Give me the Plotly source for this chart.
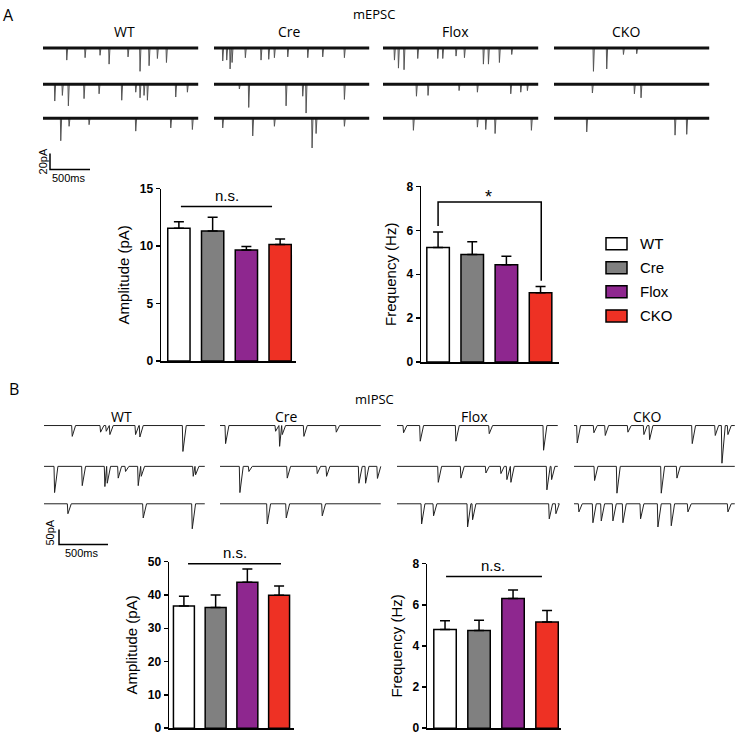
import plotly.graph_objects as go

W, H = 736, 739

GROUPS = ["WT", "Cre", "Flox", "CKO"]
COLORS = ["#ffffff", "#808080", "#8e278f", "#ee3124"]

# bar values (mean, sem)
EPSC_AMP = [11.55, 11.3, 9.66, 10.13]
EPSC_AMP_ERR = [0.55, 1.2, 0.3, 0.47]
EPSC_FREQ = [5.22, 4.90, 4.43, 3.16]
EPSC_FREQ_ERR = [0.71, 0.58, 0.39, 0.28]
IPSC_AMP = [36.7, 36.25, 43.85, 39.9]
IPSC_AMP_ERR = [2.9, 3.75, 3.95, 2.8]
IPSC_FREQ = [4.80, 4.75, 6.31, 5.16]
IPSC_FREQ_ERR = [0.42, 0.50, 0.41, 0.56]

# example sweeps: (time ms, event amplitude pA), three sweeps per group
EPSC_EVENTS = {
    "WT": [
        [(292, 15), (521, 12), (708, 9), (821, 20), (1058, 11), (1208, 29), (1321, 22), (1425, 13), (1538, 18)],
        [(142, 21), (237, 14), (312, 27), (508, 18), (696, 12), (979, 20), (1154, 10), (1208, 17), (1258, 14), (1300, 20), (1654, 16), (1800, 10)],
        [(217, 28), (321, 10), (571, 8), (1154, 16), (1592, 12), (1862, 14)],
    ],
    "Cre": [
        [(104, 16), (154, 15), (196, 26), (221, 18), (387, 12), (583, 15), (679, 14), (750, 12), (917, 11), (1167, 12), (1354, 11), (1625, 12)],
        [(312, 6), (429, 29), (896, 27), (1104, 15), (1146, 36), (1625, 19)],
        [(104, 12), (479, 22), (750, 10), (1221, 37), (1271, 19), (1625, 10)],
    ],
    "Flox": [
        [(138, 15), (188, 25), (258, 27), (429, 13), (679, 13), (742, 13), (908, 10), (1013, 12), (1250, 20), (1313, 20), (1450, 18), (1604, 8)],
        [(413, 15), (558, 14), (946, 8), (1175, 10), (1592, 12), (1717, 10), (1800, 8)],
        [(375, 15), (1175, 11), (1279, 14), (1396, 19), (1850, 15)],
    ],
    "CKO": [
        [(488, 29), (654, 26), (863, 8), (1029, 7)],
        [(475, 11), (1000, 12), (1083, 17)],
        [(404, 17), (1508, 21), (1654, 20)],
    ],
}

IPSC_EVENTS = {
    "WT": [
        [(282, 36), (571, 22), (629, 19), (666, 30), (928, 30), (972, 38), (1411, 86)],
        [(102, 87), (384, 64), (615, 67), (639, 56), (751, 39), (826, 17), (955, 64), (986, 33), (1516, 33), (1540, 28)],
        [(238, 33), (1006, 47), (1506, 83)],
    ],
    "Cre": [
        [(51, 60), (561, 19), (602, 69), (629, 30), (850, 36), (1180, 22)],
        [(197, 87), (289, 17), (680, 39), (986, 24), (1081, 33), (1411, 56), (1479, 56), (1600, 40)],
        [(476, 67), (670, 47), (1037, 40)],
    ],
    "Flox": [
        [(61, 24), (231, 52), (595, 52), (935, 27), (1489, 82)],
        [(415, 53), (646, 39), (901, 22), (1054, 24), (1115, 44), (1156, 53), (1523, 78), (1571, 44)],
        [(245, 67), (367, 40), (714, 77), (765, 53), (1547, 50), (1615, 33)],
    ],
    "CKO": [
        [(27, 58), (197, 24), (313, 33), (544, 22), (707, 30), (765, 47), (1200, 60), (1435, 33), (1503, 125), (1564, 30)],
        [(204, 47), (432, 89), (884, 89), (1044, 39)],
        [(44, 27), (187, 63), (272, 57), (391, 57), (493, 63), (673, 50), (850, 77), (986, 73), (1156, 27), (1564, 27)],
    ],
}

SCALE_A = (500, 20)   # ms, pA
SCALE_B = (500, 50)

# the captured page comes out slightly squeezed vertically; map target pixel rows to paper
Y_SCALE, Y_OFF = 0.978, 7.06


def px(x):
    return x / W


def py(y):
    return min(1.0, max(0.0, 1 - (y - Y_OFF) / Y_SCALE / H))


fig = go.Figure()

# ---- bar charts ----
bar_panels = [
    ("1", EPSC_AMP, EPSC_AMP_ERR, (161, 296), (188, 360), (-0.53, 3.47), (0, 15), 5, "Amplitude (pA)"),
    ("2", EPSC_FREQ, EPSC_FREQ_ERR, (421, 559), (186, 361), (-0.5, 3.54), (0, 8), 2, "Frequency (Hz)"),
    ("3", IPSC_AMP, IPSC_AMP_ERR, (169, 294), (560, 726), (-0.47, 3.47), (0, 50), 10, "Amplitude (pA)"),
    ("4", IPSC_FREQ, IPSC_FREQ_ERR, (427, 561), (562, 726), (-0.53, 3.41), (0, 8), 2, "Frequency (Hz)"),
]

axis_line = dict(showline=True, linecolor="black", linewidth=1.5, showgrid=False, zeroline=False)
for ax, vals, errs, xd, yd, xr, yr, dt, title in bar_panels:
    sfx = "" if ax == "1" else ax
    fig.add_trace(go.Bar(
        x=list(range(4)), y=vals,
        marker=dict(color=COLORS, line=dict(color="black", width=1.5)),
        width=0.66,
        error_y=dict(type="data", symmetric=False, array=errs, arrayminus=[0] * 4,
                     color="black", thickness=1.5, width=5),
        xaxis="x" + sfx, yaxis="y" + sfx,
        showlegend=False,
    ))
    fig.layout["xaxis" + sfx] = dict(
        domain=[px(xd[0]), px(xd[1])], range=list(xr), anchor="y" + sfx,
        showticklabels=False, ticks="", fixedrange=True, **axis_line,
    )
    fig.layout["yaxis" + sfx] = dict(
        domain=[py(yd[1]), py(yd[0])], range=list(yr), anchor="x" + sfx,
        dtick=dt, ticks="outside", ticklen=4, tickwidth=1.5, tickcolor="black",
        tickfont=dict(family="Liberation Sans, Arial", size=12, color="black", weight="bold"),
        title=dict(text=title, font=dict(family="Liberation Sans, Arial", size=15, color="black"), standoff=6),
        fixedrange=True, **axis_line,
    )

# ---- example sweeps ----
A_LEN, A_MS_PX, A_PA_PX = 1940, 12.5, 1.25
A_X0 = [43, 214, 383, 554]
A_ROWS = [48, 84, 118]
B_LEN, B_MS_PX, B_PA_PX = 1640, 10.2, 3.33
B_X0 = [44, 220, 397, 574]
B_ROWS = [424.3, 465, 502.3]

base_x, base_y, sp_x, sp_y = [], [], [], []
for g, gx in zip(GROUPS, A_X0):
    off = (gx - A_X0[0]) * A_MS_PX
    for r, events in enumerate(EPSC_EVENTS[g]):
        y0 = -(A_ROWS[r] - A_ROWS[0]) * A_PA_PX
        base_x += [off, off + A_LEN, None]
        base_y += [y0, y0, None]
        for t, a in events:
            sp_x += [off + t, off + t + 5, off + t + 16, None]
            sp_y += [y0, y0 - a, y0, None]

fig.add_trace(go.Scatter(x=sp_x, y=sp_y, mode="lines", line=dict(color="#555555", width=1),
                         xaxis="x5", yaxis="y5", showlegend=False, hoverinfo="skip"))
fig.add_trace(go.Scatter(x=base_x, y=base_y, mode="lines", line=dict(color="#111111", width=3),
                         xaxis="x5", yaxis="y5", showlegend=False, hoverinfo="skip"))
# scale bar A
sbx = (50 - A_X0[0]) * A_MS_PX
sby = -(169 - A_ROWS[0]) * A_PA_PX
fig.add_trace(go.Scatter(x=[sbx, sbx, sbx + SCALE_A[0]], y=[sby + SCALE_A[1], sby, sby],
                         mode="lines", line=dict(color="black", width=1.5),
                         xaxis="x5", yaxis="y5", showlegend=False, hoverinfo="skip"))

ix, iy = [], []
for g, gx in zip(GROUPS, B_X0):
    off = (gx - B_X0[0]) * B_MS_PX
    for r, events in enumerate(IPSC_EVENTS[g]):
        y0 = -(B_ROWS[r] - B_ROWS[0]) * B_PA_PX
        ev = sorted(events)
        xs, ys = [off], [y0]
        for i, (t, a) in enumerate(ev):
            nxt = ev[i + 1][0] if i + 1 < len(ev) else None
            xs += [off + t, off + t + 6]
            ys += [y0, y0 - a]
            if nxt is None or nxt > t + 40:
                xs.append(off + t + 40)
                ys.append(y0)
        xs += [off + B_LEN, None]
        ys += [y0, None]
        ix += xs
        iy += ys

fig.add_trace(go.Scatter(x=ix, y=iy, mode="lines", line=dict(color="#222222", width=1),
                         xaxis="x6", yaxis="y6", showlegend=False, hoverinfo="skip"))
sbx = (59 - B_X0[0]) * B_MS_PX
sby = -(543 - B_ROWS[0]) * B_PA_PX
fig.add_trace(go.Scatter(x=[sbx, sbx, sbx + SCALE_B[0]], y=[sby + SCALE_B[1], sby, sby],
                         mode="lines", line=dict(color="black", width=1.5),
                         xaxis="x6", yaxis="y6", showlegend=False, hoverinfo="skip"))

hidden = dict(visible=False, fixedrange=True)
fig.layout.xaxis5 = dict(domain=[0, 1], range=[-A_X0[0] * A_MS_PX, (W - A_X0[0]) * A_MS_PX], anchor="y5", **hidden)
fig.layout.yaxis5 = dict(domain=[py(185), py(30)],
                         range=[-(185 - A_ROWS[0]) * A_PA_PX, (A_ROWS[0] - 30) * A_PA_PX], anchor="x5", **hidden)
fig.layout.xaxis6 = dict(domain=[0, 1], range=[-B_X0[0] * B_MS_PX, (W - B_X0[0]) * B_MS_PX], anchor="y6", **hidden)
fig.layout.yaxis6 = dict(domain=[py(558), py(405)],
                         range=[-(558 - B_ROWS[0]) * B_PA_PX, (B_ROWS[0] - 405) * B_PA_PX], anchor="x6", **hidden)

# ---- significance marks ----
shapes = []
ann = []
sig_font = dict(family="Liberation Sans, Arial", size=15, color="black")
for sfx, top, x0, x1, yl, xt in [
    ("", 15, 0.06, 2.76, 13.43, 1.42),
    ("3", 50, 0.13, 3.06, 49.4, 1.6),
    ("4", 8, 0.03, 2.85, 7.375, 1.41),
]:
    shapes.append(dict(type="line", xref="x" + sfx, yref="y" + sfx, x0=x0, x1=x1, y0=yl, y1=yl,
                       line=dict(color="black", width=1.5)))
    ann.append(dict(text="n.s.", xref="x" + sfx, yref="y%s domain" % sfx, x=xt, y=yl / top,
                    yanchor="bottom", yshift=1, showarrow=False, font=sig_font))

shapes.append(dict(type="path", xref="x2", yref="y2",
                   path="M 0,6.2 L 0,7.29 L 3.02,7.29 L 3.02,3.7",
                   line=dict(color="black", width=1.5)))
ann.append(dict(text="*", xref="x2", yref="y2", x=1.49, y=7.29, yanchor="middle", yshift=5,
                showarrow=False, font=dict(family="Liberation Sans, Arial", size=18, color="black")))

# ---- legend ----
for i, (g, c) in enumerate(zip(GROUPS, COLORS)):
    yc = 243 + 24 * i
    shapes.append(dict(type="rect", xref="paper", yref="paper",
                       x0=px(606), x1=px(627), y0=py(yc + 6), y1=py(yc - 6),
                       fillcolor=c, line=dict(color="black", width=1.5)))
    ann.append(dict(text=g, xref="paper", yref="paper", x=px(638), y=py(yc),
                    xanchor="left", yanchor="middle", showarrow=False,
                    font=dict(family="Liberation Sans, Arial", size=15, color="black")))

# ---- panel text ----
lab = dict(family="Open Sans", size=14, color="black")
small = dict(family="Liberation Sans, Arial", size=11, color="black")
texts = [
    ("A", 8, 15, dict(lab, size=16), 0), ("mEPSC", 374, 14, dict(lab, size=13), 0),
    ("B", 14, 388, dict(lab, size=16), 0), ("mIPSC", 374, 398, dict(lab, size=13), 0),
    ("20pA", 43, 161, small, -90), ("500ms", 69, 178, small, 0),
    ("50pA", 50, 531, small, -90), ("500ms", 82, 551, small, 0),
]
for g, xa, xb in zip(GROUPS, [124, 289, 455, 626], [121, 286, 474, 647]):
    texts.append((g, xa, 31, lab, 0))
    texts.append((g, xb, 415, lab, 0))
for t, x, y, f, ang in texts:
    ann.append(dict(text=t, xref="paper", yref="paper", x=px(x), y=py(y),
                    xanchor="center", yanchor="middle", showarrow=False, font=f, textangle=ang))

fig.update_layout(
    width=W, height=H,
    margin=dict(l=0, r=0, t=0, b=0),
    paper_bgcolor="white", plot_bgcolor="white",
    shapes=shapes, annotations=ann,
    showlegend=False,
    bargap=0,
)

page_css = ("var s=document.createElement('style');"
            "s.innerHTML='html,body{margin:0 !important;padding:0 !important;overflow:hidden;}';"
            "document.head.appendChild(s);")
fig.write_html("out.html", config={"displayModeBar": False, "staticPlot": True},
               post_script=page_css)
